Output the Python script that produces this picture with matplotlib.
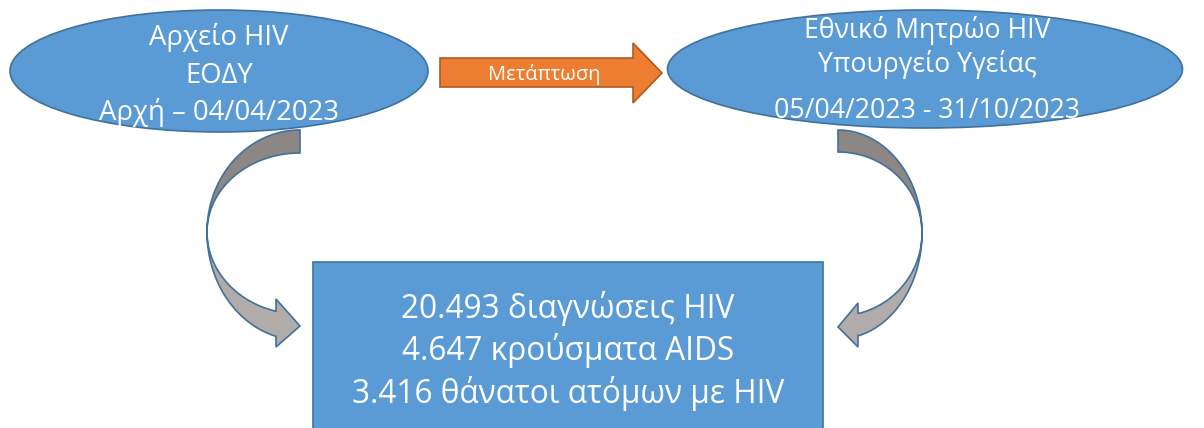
import numpy as np
import matplotlib
matplotlib.use("Agg")
import matplotlib.pyplot as plt
from matplotlib.patches import Ellipse, Rectangle, Polygon

plt.rcParams['font.family'] = ['Open Sans', 'DejaVu Sans']

# texts of the diagram
left_lines = ["Αρχείο HIV", "ΕΟΔΥ", "Αρχή – 04/04/2023"]
right_lines = ["Εθνικό Μητρώο HIV", "Υπουργείο Υγείας", "05/04/2023 - 31/10/2023"]
arrow_label = "Μετάπτωση"
box_lines = ["20.493 διαγνώσεις HIV", "4.647 κρούσματα AIDS", "3.416 θάνατοι ατόμων με HIV"]

BLUE = "#5B9BD5"
BLUE_EDGE = "#41719C"
ORANGE = "#ED7D31"
ORANGE_EDGE = "#AE5A21"
GRAY_DARK = "#8C8684"
GRAY_LIGHT = "#B1ACAA"

fig = plt.figure(figsize=(12.04, 4.28), dpi=100)
ax = fig.add_axes([0, 0, 1, 1])
ax.set_xlim(0, 1204)
ax.set_ylim(428, 0)
ax.axis("off")


def curved_arrow(ax, cx, cy, rx, top_out, top_in, bot_in, bot_out, phi_end, side, head):
    # side = -1 bulges to the left, +1 bulges to the right
    t = np.radians(np.linspace(0, 90, 60))
    x_top = cx + side * rx * np.cos(t)
    outer = np.column_stack([x_top, cy - top_out * np.sin(t)])
    inner = np.column_stack([x_top, cy - top_in * np.sin(t)])
    top = np.vstack([outer[::-1], inner])
    ax.add_patch(Polygon(top, closed=True, fc=GRAY_DARK, ec=BLUE_EDGE, lw=1.2, zorder=2))

    b = np.radians(np.linspace(0, phi_end, 60))
    x_bot = cx + side * rx * np.cos(b)
    inner_b = np.column_stack([x_bot, cy + bot_in * np.sin(b)])
    outer_b = np.column_stack([x_bot, cy + bot_out * np.sin(b)])
    hx, y_barb1, tipx, tipy, y_barb2 = head
    head_pts = np.array([[hx, inner_b[-1, 1]], [hx, y_barb1], [tipx, tipy],
                         [hx, y_barb2], [hx, outer_b[-1, 1]]])
    bottom = np.vstack([inner_b, head_pts, outer_b[::-1]])
    ax.add_patch(Polygon(bottom, closed=True, fc=GRAY_LIGHT, ec=BLUE_EDGE, lw=1.2, zorder=2))


# curved arrows down to the box
curved_arrow(ax, 300, 232, 93, 102, 79, 82, 108, 75, -1, (276, 299, 300, 326, 347))
curved_arrow(ax, 838, 233, 84, 103, 81, 83, 106, 75, 1, (858, 303, 838, 327, 347))

# ellipses
ax.add_patch(Ellipse((219, 71), 418, 122, fc=BLUE, ec=BLUE_EDGE, lw=1.2, zorder=3))
ax.add_patch(Ellipse((925, 69), 515, 118, fc=BLUE, ec=BLUE_EDGE, lw=1.2, zorder=3))

# orange block arrow
arrow = np.array([[440, 58], [633, 58], [633, 43], [662, 73], [633, 103], [633, 87], [440, 87]])
ax.add_patch(Polygon(arrow, closed=True, fc=ORANGE, ec=ORANGE_EDGE, lw=1.2, zorder=3))
ax.text(544, 80, arrow_label, color="white", fontsize=14.5, ha="center", va="baseline", zorder=4)

# result box
ax.add_patch(Rectangle((313, 262), 510, 200, fc=BLUE, ec=BLUE_EDGE, lw=1.2, zorder=3))

for line, yb in zip(left_lines, [45, 83, 120]):
    ax.text(219, yb, line, color="white", fontsize=19.8, ha="center", va="baseline", zorder=4)
for line, yb in zip(right_lines, [38, 72, 118]):
    ax.text(927, yb, line, color="white", fontsize=19.2, ha="center", va="baseline", zorder=4)
for line, yb in zip(box_lines, [318, 360, 403]):
    ax.text(568, yb, line, color="white", fontsize=22.8, ha="center", va="baseline", zorder=4)

fig.savefig("out.png", dpi=100, facecolor="white")
